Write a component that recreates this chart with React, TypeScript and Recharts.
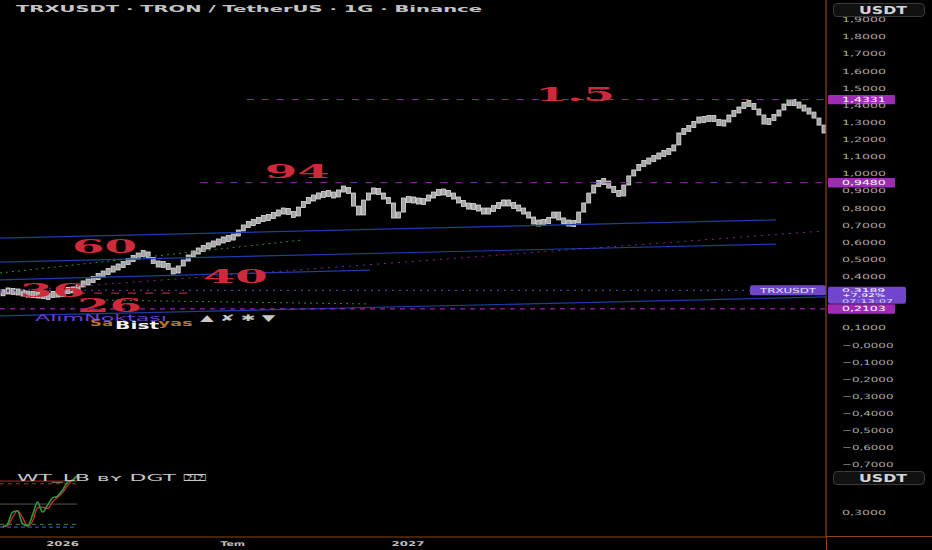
import React from 'react';
import { ComposedChart, Bar, Line, XAxis, YAxis, ReferenceLine, ReferenceDot } from 'recharts';

// daily closes of the drawn TRX path (downsampled, one bar per ~5 days)
const closes = [
  0.309, 0.321, 0.303, 0.315, 0.291, 0.303, 0.286, 0.297, 0.28, 0.286,
  0.303, 0.291, 0.309, 0.327, 0.315, 0.35, 0.362, 0.373, 0.391, 0.408,
  0.42, 0.437, 0.449, 0.461, 0.478, 0.496, 0.513, 0.525, 0.543, 0.508,
  0.478, 0.467, 0.473, 0.443, 0.42, 0.461, 0.496, 0.519, 0.543, 0.554,
  0.572, 0.584, 0.595, 0.607, 0.619, 0.624, 0.636, 0.671, 0.695, 0.712,
  0.718, 0.735, 0.741, 0.747, 0.765, 0.776, 0.788, 0.77, 0.753, 0.805,
  0.835, 0.852, 0.864, 0.876, 0.881, 0.887, 0.864, 0.905, 0.916, 0.887,
  0.811, 0.759, 0.846, 0.887, 0.911, 0.881, 0.858, 0.829, 0.741, 0.776,
  0.858, 0.841, 0.852, 0.829, 0.846, 0.87, 0.881, 0.899, 0.887, 0.881,
  0.858, 0.835, 0.817, 0.805, 0.811, 0.788, 0.776, 0.788, 0.805, 0.823,
  0.835, 0.823, 0.805, 0.794, 0.77, 0.747, 0.706, 0.718, 0.712, 0.741,
  0.776, 0.73, 0.718, 0.706, 0.712, 0.776, 0.829, 0.887, 0.934, 0.952,
  0.957, 0.916, 0.899, 0.87, 0.934, 0.987, 1.022, 1.051, 1.068, 1.08,
  1.098, 1.109, 1.127, 1.133, 1.168, 1.238, 1.255, 1.273, 1.302, 1.325,
  1.308, 1.337, 1.308, 1.29, 1.302, 1.343, 1.36, 1.384, 1.413, 1.407,
  1.378, 1.343, 1.29, 1.32, 1.337, 1.372, 1.407, 1.425, 1.407, 1.395,
  1.372, 1.36, 1.325, 1.284, 1.238,
];
const firstOpen = 0.3;

const priceTicks = [
  -0.7, -0.6, -0.5, -0.4, -0.3, -0.2, -0.1, 0, 0.1, 0.2, 0.3, 0.4, 0.5, 0.6,
  0.7, 0.8, 0.9, 1.0, 1.1, 1.2, 1.3, 1.4, 1.5, 1.6, 1.7, 1.8, 1.9,
];

const dateTicks = [12, 46, 81];
const dateLabels = ['2026', 'Tem', '2027'];

// horizontal dashed levels (start bar index)
const levelLines = [
  { v: 1.4331, from: 48.8 },
  { v: 0.948, from: 39.5 },
];

// drawn trend lines
const trendLines = [
  { kind: 'blue', i1: -0.5, v1: 0.624, i2: 154.5, v2: 0.73 },
  { kind: 'blue', i1: -0.5, v1: 0.484, i2: 154.5, v2: 0.589 },
  { kind: 'blue', i1: -0.5, v1: 0.38, i2: 73.4, v2: 0.437 },
  { kind: 'blue', i1: -0.5, v1: 0.169, i2: 164.5, v2: 0.28 },
  { kind: 'green', i1: -0.5, v1: 0.42, i2: 60.0, v2: 0.613 },
  { kind: 'green', i1: 19.5, v1: 0.262, i2: 73.4, v2: 0.239 },
  { kind: 'purple', i1: -0.5, v1: 0.309, i2: 163.9, v2: 0.665 },
  { kind: 'red', i1: 14.9, v1: 0.303, i2: 38.1, v2: 0.303 },
];

const tags = [
  { v: 1.4331, label: '1,4331' },
  { v: 0.948, label: '0,9480' },
  { v: 0.2103, label: '0,2103' },
];
const lastPrice = 0.3189;
const lastPriceText = '0,3189';
const lastChange = '+7,92%';
const countdown = '07:13:07';

const bigLabels = [
  { text: '1.5', i: 106.4, v: 1.425 },
  { text: '94', i: 52.4, v: 0.975 },
  { text: '60', i: 13.9, v: 0.537 },
  { text: '40', i: 40.0, v: 0.362 },
  { text: '36', i: 3.5, v: 0.28 },
  { text: '26', i: 14.9, v: 0.192 },
];

const notes = [
  { text: 'AlımNoktası', kind: 'buy', i: 6.5, v: 0.14 },
  { text: 'Sa', kind: 'sell', i: 17.5, v: 0.11 },
  { text: 'yas', kind: 'sell', i: 31.1, v: 0.11 },
  { text: 'Bist', kind: 'bist', i: 22.5, v: 0.093 },
  { text: '▲  ✘  ✱  ▼', kind: 'icons', i: 39.5, v: 0.14 },
];

// WT_LB oscillator
const wt1 = [-60, -52, -21, -18, -52, -57, -29, 5, -21, -3, 16, 21, 37, 57, 63, 76];
const wt2 = [-58, -57, -35, -17, -35, -58, -45, -10, -8, -12, 6, 18, 30, 48, 62, 70];
const wtLevels = [
  { v: 60, kind: 'ob' },
  { v: 53, kind: 'ob2' },
  { v: 0, kind: 'zero' },
  { v: -53, kind: 'os2' },
  { v: -60, kind: 'os' },
];
const wtTicks = [-21];
const wtTickLabels = ['0,3000'];

const candles = closes.map((c, i) => ({ i, open: i === 0 ? firstOpen : closes[i - 1], close: c }));
const wtData = wt1.map((w, i) => ({ i, wt1: w, wt2: wt2[i] }));

const ORANGE = '#8c4614';
const FONT = 'DejaVu Sans';
const X_DOMAIN: [number, number] = [-0.5, 164.5];

const Stretch = ({ x, y, text, size, per, fill, weight = 400, family = FONT }: any) => (
  <text
    x={x}
    y={y}
    fontSize={size}
    fontFamily={family}
    fontWeight={weight}
    fill={fill}
    textLength={text.length * per}
    lengthAdjust="spacingAndGlyphs"
  >
    {text}
  </text>
);

const fmtPrice = (v: number) => {
  if (Math.abs(v) < 1e-9) return '−0,0000';
  return (v < 0 ? '−' : '') + Math.abs(v).toFixed(4).replace('.', ',');
};

// ticks hidden behind a price tag on the axis
const coveredByTag = (v: number) =>
  [...tags.map((t) => t.v), lastPrice].some((t) => Math.abs(t - v) < 0.025);

const PriceTick = (p: any) => {
  if (coveredByTag(p.payload.value)) return <g />;
  return <Stretch x={p.x} y={p.y + 2.6} text={fmtPrice(p.payload.value)} size={7.2} per={7.35} fill="#a8a8a8" />;
};

const WtTick = (p: any) => {
  const idx = wtTicks.indexOf(p.payload.value);
  return <Stretch x={p.x} y={p.y + 2.6} text={wtTickLabels[idx] ?? ''} size={7.2} per={7.35} fill="#a8a8a8" />;
};

const DateTick = (p: any) => {
  const idx = dateTicks.indexOf(p.payload.value);
  const t = dateLabels[idx] ?? '';
  const w = t.length * 8.2;
  return <Stretch x={p.x - w / 2} y={p.y + 9} text={t} size={6.6} per={8.2} fill="#bdbdbd" weight={700} />;
};

const Candle = (p: any) => {
  const { x, y, width, height } = p;
  let h = Math.abs(height);
  let top = height < 0 ? y + height : y;
  if (h < 6) {
    top -= (6 - h) / 2;
    h = 6;
  }
  return <rect x={x} y={top} width={width} height={h} fill="#a3a3a3" stroke="#e2e2e2" strokeWidth={0.8} />;
};

const AxisTag = ({ viewBox, label }: any) => {
  const x = viewBox.x + viewBox.width + 2;
  const y = viewBox.y;
  return (
    <g>
      <rect x={x} y={y - 4.6} width={67} height={9.4} fill="#9d2bb6" rx={1} />
      <Stretch x={x + 14} y={y + 2.6} text={label} size={7.2} per={7.3} fill="#ffffff" />
    </g>
  );
};

const LastTag = ({ viewBox }: any) => {
  const r = viewBox.x + viewBox.width;
  const y = viewBox.y;
  return (
    <g>
      <rect x={r - 76} y={y - 5} width={76} height={10} fill="#6f45c9" rx={2} />
      <Stretch x={r - 66} y={y + 2.6} text="TRXUSDT" size={7} per={8} fill="#e8e0ff" />
      <rect x={r + 2} y={y - 3.5} width={78} height={17} fill="#7246cc" rx={2} />
      <Stretch x={r + 16} y={y + 1.6} text={lastPriceText} size={5} per={7.2} fill="#ffffff" />
      <Stretch x={r + 16} y={y + 7.1} text={lastChange} size={5} per={7.2} fill="#ffffff" />
      <Stretch x={r + 16} y={y + 12.5} text={countdown} size={5} per={6.4} fill="#e0d8ff" />
    </g>
  );
};

const BigLabel = (text: string) => (p: any) => {
  const len = text.split('').reduce((s, ch) => s + (ch === '.' ? 15 : 32.5), 0);
  return (
    <text
      x={p.cx}
      y={p.cy}
      fontSize={19}
      fontFamily="DejaVu Serif"
      fontWeight={700}
      fill="#cf2a3c"
      textLength={len}
      lengthAdjust="spacingAndGlyphs"
    >
      {text}
    </text>
  );
};

const noteStyle: Record<string, { fill: string; weight: number; per: number; size: number }> = {
  buy: { fill: '#6a3fd4', weight: 400, per: 12, size: 9 },
  sell: { fill: '#b8732a', weight: 700, per: 11.5, size: 8 },
  bist: { fill: '#f2f2f2', weight: 700, per: 11, size: 10 },
  icons: { fill: '#c8c8c8', weight: 700, per: 7.5, size: 9 },
};

const NoteLabel = (n: any) => (p: any) => {
  const s = noteStyle[n.kind];
  return <Stretch x={p.cx} y={p.cy} text={n.text} size={s.size} per={s.per} fill={s.fill} weight={s.weight} />;
};

const lineStyle: Record<string, any> = {
  blue: { stroke: '#1c3ea8', strokeWidth: 1.2 },
  green: { stroke: '#2f8f3c', strokeWidth: 1, strokeDasharray: '2 4' },
  purple: { stroke: '#7a2a90', strokeWidth: 1, strokeDasharray: '2 5' },
  red: { stroke: '#b3283a', strokeWidth: 1.2, strokeDasharray: '8 9' },
};

const wtStyle: Record<string, any> = {
  ob: { stroke: '#c62828', strokeWidth: 1 },
  ob2: { stroke: '#c62828', strokeWidth: 1, strokeDasharray: '4 4' },
  zero: { stroke: '#555555', strokeWidth: 1 },
  os2: { stroke: '#2e8b3a', strokeWidth: 1, strokeDasharray: '4 4' },
  os: { stroke: '#3b45c8', strokeWidth: 1.2, strokeDasharray: '4 3' },
};

const UsdtButton = ({ top }: { top: number }) => (
  <div
    style={{
      position: 'absolute',
      left: 833,
      top,
      width: 92,
      height: 14,
      border: '1px solid #3a3a3a',
      borderRadius: 4,
      background: '#111',
      boxSizing: 'border-box',
    }}
  >
    <svg width={92} height={14} style={{ position: 'absolute', left: -1, top: -1 }}>
      <Stretch x={26} y={11} text="USDT" size={9.6} per={12} fill="#d4d4d4" weight={700} />
    </svg>
  </div>
);

export default function App() {
  return (
    <div style={{ position: 'absolute', left: 0, top: 0, width: 932, height: 550, background: '#000', overflow: 'hidden' }}>
      <div style={{ position: 'absolute', left: 0, top: 0 }}>
        <ComposedChart width={932} height={470} data={candles} margin={{ top: 0, right: 0, bottom: 0, left: 0 }}>
          <XAxis dataKey="i" type="number" domain={X_DOMAIN} allowDataOverflow hide />
          <YAxis
            orientation="right"
            type="number"
            width={106}
            domain={[-0.7307, 2.0146]}
            allowDataOverflow
            ticks={priceTicks}
            interval={0}
            tickLine={false}
            tickSize={0}
            tickMargin={16}
            axisLine={{ stroke: ORANGE, strokeWidth: 1.2 }}
            tick={(p: any) => <PriceTick {...p} />}
          />
          {trendLines.map((t, k) => (
            <ReferenceLine
              key={'t' + k}
              segment={[{ x: t.i1, y: t.v1 }, { x: t.i2, y: t.v2 }]}
              {...lineStyle[t.kind]}
            />
          ))}
          <ReferenceLine
            segment={[{ x: X_DOMAIN[0], y: lastPrice }, { x: X_DOMAIN[1], y: lastPrice }]}
            stroke="#4c3c92"
            strokeWidth={1.2}
            strokeDasharray="2 5"
          />
          <ReferenceLine
            segment={[{ x: X_DOMAIN[0], y: tags[2].v }, { x: X_DOMAIN[1], y: tags[2].v }]}
            stroke="#a020b4"
            strokeWidth={1.2}
            strokeDasharray="5 5"
          />
          {levelLines.map((l, k) => (
            <ReferenceLine
              key={'l' + k}
              segment={[{ x: l.from, y: l.v }, { x: X_DOMAIN[1], y: l.v }]}
              stroke="#8e2aa4"
              strokeWidth={1}
              strokeDasharray="7 8"
            />
          ))}
          <Bar
            dataKey={(d: any) => [Math.min(d.open, d.close), Math.max(d.open, d.close)]}
            barSize={4}
            shape={(p: any) => <Candle {...p} />}
            isAnimationActive={false}
          />
          {bigLabels.map((b, k) => (
            <ReferenceDot key={'b' + k} x={b.i} y={b.v} r={0} shape={BigLabel(b.text)} />
          ))}
          {notes.map((n, k) => (
            <ReferenceDot key={'n' + k} x={n.i} y={n.v} r={0} shape={NoteLabel(n)} />
          ))}
          {tags.map((t, k) => (
            <ReferenceLine key={'g' + k} y={t.v} stroke="none" label={(p: any) => <AxisTag {...p} label={t.label} />} />
          ))}
          <ReferenceLine y={lastPrice} stroke="none" label={(p: any) => <LastTag {...p} />} />
        </ComposedChart>
      </div>

      <div style={{ position: 'absolute', left: 0, top: 470 }}>
        <ComposedChart width={932} height={80} data={wtData} margin={{ top: 0, right: 0, bottom: 0, left: 0 }}>
          <XAxis
            dataKey="i"
            type="number"
            domain={X_DOMAIN}
            allowDataOverflow
            ticks={dateTicks}
            interval={0}
            height={13}
            tickLine={false}
            tickSize={0}
            tickMargin={0}
            axisLine={{ stroke: ORANGE, strokeWidth: 1.2 }}
            tick={(p: any) => <DateTick {...p} />}
          />
          <YAxis
            orientation="right"
            type="number"
            width={106}
            domain={[-86, 89]}
            allowDataOverflow
            ticks={wtTicks}
            interval={0}
            tickLine={false}
            tickSize={0}
            tickMargin={16}
            axisLine={{ stroke: ORANGE, strokeWidth: 1.2 }}
            tick={(p: any) => <WtTick {...p} />}
          />
          {wtLevels.map((l, k) => (
            <ReferenceLine
              key={'w' + k}
              segment={[{ x: X_DOMAIN[0], y: l.v }, { x: 14.9, y: l.v }]}
              {...wtStyle[l.kind]}
            />
          ))}
          <Line dataKey="wt2" type="monotone" stroke="#d32f2f" strokeWidth={1.3} dot={false} isAnimationActive={false} />
          <Line dataKey="wt1" type="monotone" stroke="#2e9b3c" strokeWidth={1.6} dot={false} isAnimationActive={false} />
        </ComposedChart>
      </div>

      <svg width={500} height={20} style={{ position: 'absolute', left: 0, top: 0 }}>
        <Stretch x={16} y={12.2} text="TRXUSDT · TRON / TetherUS · 1G · Binance" size={8.6} per={11.65} fill="#c4c4c4" weight={700} />
      </svg>
      <svg width={230} height={16} style={{ position: 'absolute', left: 0, top: 470 }}>
        <Stretch x={17} y={10.5} text="WT_LB ʙʏ DGT ⍰⍰" size={9.4} per={12.6} fill="#c8c8c8" />
      </svg>

      <div style={{ position: 'absolute', left: 826, top: 536, width: 106, height: 1, background: ORANGE }} />
      <div style={{ position: 'absolute', left: 826, top: 536, width: 1, height: 14, background: ORANGE }} />

      <UsdtButton top={3} />
      <UsdtButton top={471} />
    </div>
  );
}
